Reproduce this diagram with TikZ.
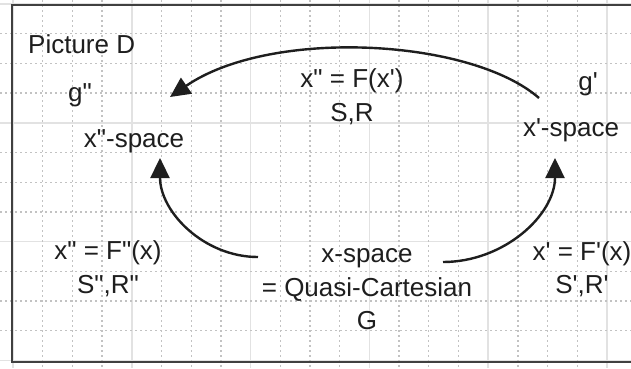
\documentclass[tikz,border=0pt]{standalone}
\usepackage{fontspec}
\newfontfamily\arial{Liberation Sans}
\usetikzlibrary{arrows.meta}
\definecolor{gridmajor}{HTML}{E2E2E2}
\definecolor{gridminor}{HTML}{C2C2C2}
\definecolor{framecol}{HTML}{404040}
\definecolor{ink}{HTML}{1E1E1E}
\begin{document}
\begin{tikzpicture}[x=1pt,y=-1pt,
  lbl/.style={font=\arial\fontsize{26}{31}\selectfont, text=ink, inner sep=0pt, anchor=base},
  conn/.style={line width=2.4pt, draw=ink, -{Triangle[length=20pt,width=19pt]}},
  major/.style={draw=gridmajor, line width=1.6pt},
  minor/.style={draw=gridminor, line width=1.3pt, dash pattern=on 1.5pt off 3.5pt},
  framebox/.style={draw=framecol, line width=2.6pt}]
\useasboundingbox (0,0) rectangle (631,368);
\begin{scope}
\clip (0,0) rectangle (631,368);
\fill[white] (0,0) rectangle (631,368);
% major grid
\foreach \k in {0,4,8,12,16,20} \draw[major] ({13+29.7*\k},0) -- ({13+29.7*\k},368);
\foreach \k in {0,4,8,12} \draw[major] (0,{4+29.7*\k}) -- (631,{4+29.7*\k});
% minor grid
\foreach \k in {1,2,3,5,6,7,9,10,11,13,14,15,17,18,19} \draw[minor] ({13+29.7*\k},0) -- ({13+29.7*\k},368);
\foreach \k in {1,2,3,5,6,7,9,10,11} \draw[minor] (0,{4+29.7*\k}) -- (631,{4+29.7*\k});
% frame
\draw[framebox] (12,5) rectangle (645,362);
\end{scope}
% labels
\node[lbl, anchor=base west] (pic) at (28,53) {Picture D};
\node[lbl] (gpp) at (80,101) {g"};
\node[lbl] (xpp) at (134,147) {x"-space};
\node[lbl] (fa) at (352,87) {x" = F(x')};
\node[lbl] (sra) at (352,121) {S,R};
\node[lbl] (gp) at (588,90) {g'};
\node[lbl] (xp) at (571,136) {x'-space};
\node[lbl] (x0) at (367,262) {x-space};
\node[lbl] (qc) at (367,296) {= Quasi-Cartesian};
\node[lbl] (gg) at (367,329) {G};
\node[lbl] (fb) at (108,259) {x" = F"(x)};
\node[lbl] (srb) at (108,293) {S",R"};
\node[lbl] (fc) at (582,260) {x' = F'(x)};
\node[lbl] (src) at (582,293) {S',R'};
% connectors
\coordinate (t1) at (539,98);
\coordinate (t2) at (170,97);
\coordinate (l1) at (258,257);
\coordinate (l2) at (160,158);
\coordinate (r1) at (443,262);
\coordinate (r2) at (555,158);
\draw[conn] (t1) .. controls (470,38) and (270,28) .. (t2);
\draw[conn] (l1) .. controls (204,257) and (160,212) .. (l2);
\draw[conn] (r1) .. controls (504,262) and (555,215) .. (r2);
\end{tikzpicture}
\end{document}
